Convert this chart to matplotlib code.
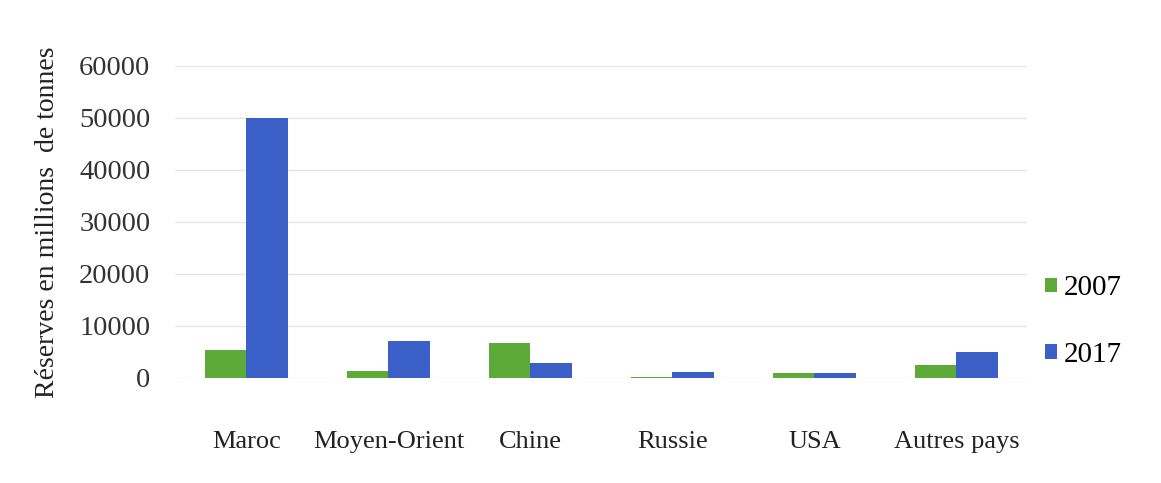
import matplotlib
matplotlib.use("Agg")
import matplotlib.pyplot as plt
import numpy as np

categories = ["Maroc", "Moyen-Orient", "Chine", "Russie", "USA", "Autres pays"]
series_names = ["2007", "2017"]
values_2007 = [5400, 1300, 6700, 200, 1000, 2500]
values_2017 = [50000, 7100, 2900, 1100, 1000, 5000]
yticks = [0, 10000, 20000, 30000, 40000, 50000, 60000]

plt.rcParams['font.family'] = ['Liberation Serif', 'DejaVu Serif']

fig = plt.figure(figsize=(11.61, 4.83), dpi=100)
ax = fig.add_axes([0.151, 0.2174, 0.734, 0.646])

x = np.arange(len(categories))
w = 0.29
green = '#5eaa38'
blue = '#3a5fc6'
ax.bar(x - w/2, values_2007, w, color=green, label=series_names[0], zorder=3)
ax.bar(x + w/2, values_2017, w, color=blue, label=series_names[1], zorder=3)

ax.set_xlim(-0.5, len(categories) - 0.5)
ax.set_ylim(0, 60000)
ax.set_yticks(yticks)
ax.set_yticklabels([str(t) for t in yticks], fontsize=20.5, color='#333333')
ax.set_xticks(x)
ax.set_xticklabels(categories, fontsize=19, color='#222222')
ax.tick_params(axis='both', length=0)
ax.tick_params(axis='y', pad=18)
ax.tick_params(axis='x', pad=38)
ax.grid(axis='y', color='#e6e6e6', linewidth=1, zorder=0)
for s in ax.spines.values():
    s.set_visible(False)
ax.set_ylabel("Réserves en millions  de tonnes", fontsize=20, color='#222222', labelpad=14)

ax.legend(loc='center left', bbox_to_anchor=(0.99, 0.18), frameon=False,
          fontsize=21, handlelength=0.4, handleheight=0.4, handletextpad=0.25,
          labelspacing=1.4)

fig.savefig("out.png", dpi=100, facecolor='white')
